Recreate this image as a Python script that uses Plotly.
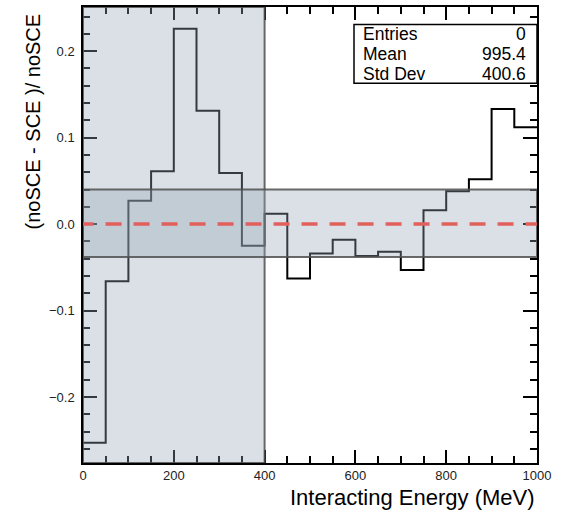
import plotly.graph_objects as go

# Relative difference per 50 MeV bin, 0-1000 MeV
bin_edges = list(range(0, 1001, 50))
rel_diff = [-0.253, -0.066, 0.027, 0.061, 0.226, 0.131, 0.059, -0.025,
            0.012, -0.063, -0.034, -0.018, -0.037, -0.032, -0.053,
            0.016, 0.038, 0.052, 0.133, 0.112]

# Shaded regions: low-energy window and tolerance band
low_region = [0, 400]
tol_band = [-0.038, 0.040]
ref_level = 0.0

# Statistics box
stat_names = ["Entries", "Mean", "Std Dev"]
stat_values = ["0", "995.4", "400.6"]

x_range = [0, 1000]
y_range = [-0.2763, 0.2511]

W, H = 562, 522
M = dict(l=83, r=25, t=5, b=59)
PW = W - M["l"] - M["r"]
PH = H - M["t"] - M["b"]


def px_x(px):
    return (px - M["l"]) / PW


def px_y(py):
    return (H - M["b"] - py) / PH


FONT = "Liberation Sans, Arial, Helvetica, sans-serif"

fig = go.Figure()
fig.add_trace(go.Scatter(
    x=bin_edges,
    y=rel_diff + [rel_diff[-1]],
    mode="lines",
    line=dict(shape="hv", color="black", width=2),
    hoverinfo="skip",
    showlegend=False,
))

band_fill = "rgba(150,165,180,0.35)"
band_line = dict(color="rgba(80,80,80,0.85)", width=2)

fig.add_shape(type="rect", xref="x", yref="y",
              x0=low_region[0], x1=low_region[1], y0=y_range[0], y1=y_range[1],
              fillcolor=band_fill, line=band_line, layer="above")
fig.add_shape(type="rect", xref="x", yref="y",
              x0=x_range[0], x1=x_range[1], y0=tol_band[0], y1=tol_band[1],
              fillcolor=band_fill, line=band_line, layer="above")
fig.add_shape(type="line", xref="x", yref="y",
              x0=x_range[0] - 12, x1=x_range[1], y0=ref_level, y1=ref_level,
              line=dict(color="#e2605b", width=3.5, dash="16px,12px"),
              layer="above")

# Statistics box
fig.add_shape(type="rect", xref="paper", yref="paper",
              x0=px_x(354), x1=1.0, y0=px_y(81.5), y1=px_y(22.5),
              fillcolor="white", line=dict(color="black", width=1.5),
              layer="above")
row_py = [32.0, 52.0, 72.0]
for name, val, py in zip(stat_names, stat_values, row_py):
    fig.add_annotation(text=name, xref="paper", yref="paper",
                       x=px_x(361), y=px_y(py), xanchor="left", yanchor="middle",
                       height=17, showarrow=False,
                       font=dict(family=FONT, size=17.5, color="black"))
    fig.add_annotation(text=val, xref="paper", yref="paper",
                       x=px_x(528), y=px_y(py), xanchor="right", yanchor="middle",
                       height=17, showarrow=False,
                       font=dict(family=FONT, size=17.5, color="black"))

# Axis titles
fig.add_annotation(text="Interacting Energy (MeV)", xref="paper", yref="paper",
                   x=1.0, y=px_y(498), xanchor="right", yanchor="middle",
                   showarrow=False, font=dict(family=FONT, size=22, color="black"))
fig.add_annotation(text="(noSCE - SCE )/ noSCE", xref="paper", yref="paper",
                   x=px_x(33), y=px_y(120), xanchor="center", yanchor="middle",
                   textangle=-90, showarrow=False,
                   font=dict(family=FONT, size=20, color="black"))

axis_common = dict(
    showgrid=False, zeroline=False, showline=True, linecolor="black",
    linewidth=1.5, mirror="allticks", ticks="inside", tickcolor="black",
    tickwidth=1.5, tickfont=dict(family=FONT, size=13, color="#222"),
)
fig.update_xaxes(range=x_range, dtick=200, tick0=0, ticklen=13,
                 minor=dict(dtick=50, ticklen=7, ticks="inside", tickcolor="black", tickwidth=1.5),
                 **axis_common)
fig.update_yaxes(range=y_range, dtick=0.1, tick0=0, ticklen=14, tickformat=".1f",
                 minor=dict(dtick=0.02, ticklen=7, ticks="inside", tickcolor="black", tickwidth=1.5),
                 ticklabelstandoff=4,
                 **axis_common)

fig.update_layout(
    width=W, height=H, autosize=False, margin=M,
    paper_bgcolor="white", plot_bgcolor="white",
    showlegend=False,
)

fig.write_html("out.html")
